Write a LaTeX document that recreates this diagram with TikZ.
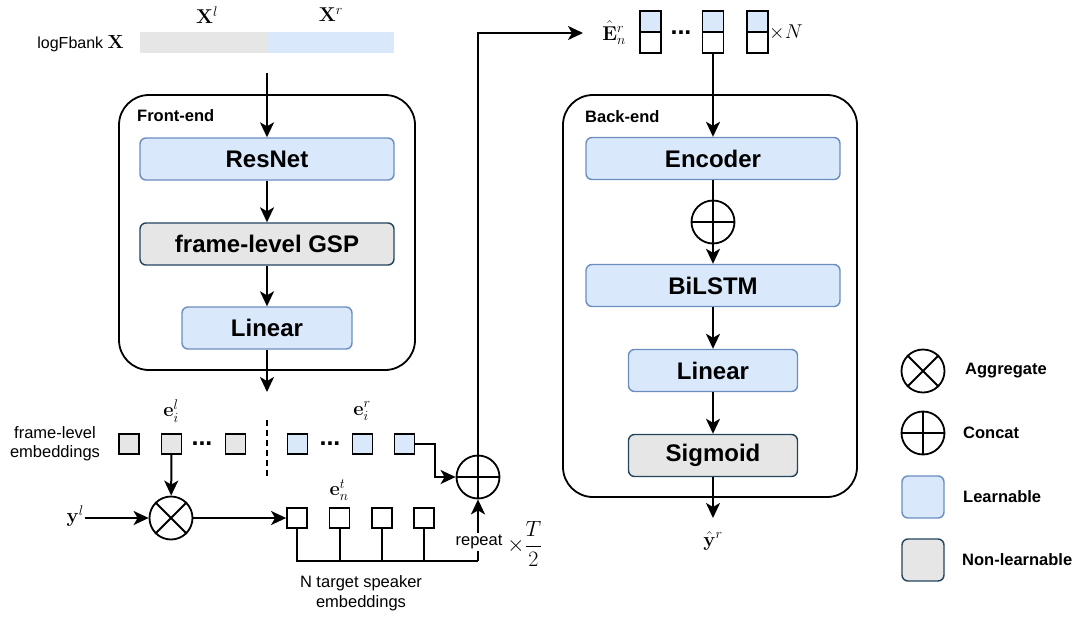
\RequirePackage{fix-cm}
\documentclass[tikz,border=0pt]{standalone}
\usepackage{amsmath}
\usepackage[no-math]{fontspec}
\setmainfont{Liberation Sans}
\usetikzlibrary{arrows.meta}
\definecolor{lblue}{HTML}{DAE8FC}
\definecolor{lbord}{HTML}{6C8EBF}
\definecolor{lgray}{HTML}{E6E6E6}
\definecolor{gbord}{HTML}{23445D}
\begin{document}
\begin{tikzpicture}[x=1pt,y=-1pt,
  arr/.style={line width=2pt,-{Stealth[length=15pt,width=14pt,inset=4pt]}},
  conn/.style={line width=2pt},
  blk/.style={rounded corners=6pt, line width=1.4pt, minimum height=42pt, inner sep=0pt, font=\bfseries\fontsize{24}{28}\selectfont},
  lrn/.style={blk, fill=lblue, draw=lbord},
  nlr/.style={blk, fill=lgray, draw=gbord},
  group/.style={draw, line width=1.8pt, rounded corners=30pt, inner sep=0pt},
  grplbl/.style={anchor=west, inner sep=0pt, font=\bfseries\fontsize{16.5}{19}\selectfont},
  emb/.style={draw, line width=1.8pt, minimum size=20pt, inner sep=0pt},
  ebox/.style={draw, line width=1.8pt, minimum width=21pt, minimum height=21pt, inner sep=0pt},
  op/.style={draw, circle, line width=1.8pt, minimum size=43pt, inner sep=0pt},
  opline/.style={line width=1.8pt},
  mlbl/.style={font=\fontsize{20}{24}\selectfont, inner sep=1pt},
  txt/.style={font=\fontsize{16.5}{19}\selectfont, align=center},
  dots/.style={font=\bfseries\fontsize{25}{28}\selectfont, anchor=base, inner sep=0pt},
  leg/.style={anchor=west, inner sep=0pt, font=\bfseries\fontsize{16.5}{20}\selectfont}
]
\useasboundingbox (0,0) rectangle (1080,619);

% input features
\node[fill=lgray, minimum width=127, minimum height=21, inner sep=0pt] (xl) at (203.5,42.5) {};
\node[fill=lblue, minimum width=127, minimum height=21, inner sep=0pt] (xr) at (330.5,42.5) {};
\node[mlbl] (xllbl) at (207,15) {$\mathbf{X}^l$};
\node[mlbl] (xrlbl) at (331,15) {$\mathbf{X}^r$};
\node[anchor=base east, inner sep=0pt] (xlab) at (124,48) {\fontsize{16}{19}\selectfont logFbank \fontsize{19}{22}\selectfont$\mathbf{X}$};

% front-end
\node[group, minimum width=296, minimum height=275] (fe) at (267,232.5) {};
\node[grplbl] (felbl) at (137,116) {Front-end};
\node[lrn, minimum width=254] (resnet) at (267,159) {ResNet};
\node[nlr, minimum width=254] (gsp) at (267,244) {frame-level GSP};
\node[lrn, minimum width=170] (lin1) at (267,328) {Linear};
\coordinate (xin) at (267,73);
\coordinate (feout) at (267,392);
\draw[arr] (xin) -- (resnet.north);
\draw[arr] (resnet) -- (gsp);
\draw[arr] (gsp) -- (lin1);
\draw[arr] (lin1) -- (feout);

% frame-level embeddings
\node[txt] (fltxt) at (55,444) {frame-level\\embeddings};
\node[emb, fill=lgray] (g1) at (129,444) {};
\node[emb, fill=lgray] (g2) at (171.5,444) {};
\node[emb, fill=lgray] (g3) at (235.5,444) {};
\node[dots] (gd) at (202,445.8) {...};
\node[emb, fill=lblue] (b1) at (297.5,444) {};
\node[emb, fill=lblue] (b2) at (362.5,444) {};
\node[emb, fill=lblue] (b3) at (404.5,444) {};
\node[dots] (bd) at (330,445.8) {...};
\coordinate (dsh1) at (267,420);
\coordinate (dsh2) at (267,478);
\draw[line width=1.8pt, dash pattern=on 6pt off 4pt] (dsh1) -- (dsh2);
\node[mlbl] (eil) at (171,411) {$\mathbf{e}_i^l$};
\node[mlbl] (eir) at (362,411) {$\mathbf{e}_i^r$};

% aggregate
\node[op] (agg) at (171,518) {};
\draw[opline] (agg.north east) -- (agg.south west) (agg.north west) -- (agg.south east);
\draw[arr] (g2) -- (agg);
\node[mlbl, anchor=east] (yl) at (85,516) {$\mathbf{y}^l$};
\draw[arr] (yl.east |- agg.west) -- (agg.west);

% target speaker embeddings
\node[emb, fill=white] (t1) at (297,518) {};
\node[emb, fill=white] (t2) at (339.5,518) {};
\node[emb, fill=white] (t3) at (382,518) {};
\node[emb, fill=white] (t4) at (424,518) {};
\draw[arr] (agg) -- (t1);
\node[mlbl] (ent) at (339,490) {$\mathbf{e}_n^t$};

% concat
\node[op] (cc) at (478,477) {};
\draw[opline] (cc.north) -- (cc.south) (cc.west) -- (cc.east);
\draw[arr] (b3.east) -- ++(20,0) |- (cc.west);

\coordinate (bus) at (478,561);
\draw[conn] (t1.south) -- (t1.south |- bus) -- (bus);
\draw[conn] (t2.south) -- (t2.south |- bus);
\draw[conn] (t3.south) -- (t3.south |- bus);
\draw[conn] (t4.south) -- (t4.south |- bus);
\draw[arr] (bus) -- (cc.south);
\node[txt, fill=white, inner sep=1.5pt] (rep) at (479,542) {repeat};
\node[anchor=west, inner sep=1pt, xshift=2pt, yshift=-2pt, font=\fontsize{22}{26}\selectfont] (rept) at (rep.east) {$\times\dfrac{T}{2}$};
\node[txt] (ntse) at (361,593) {N target speaker\\[1pt]embeddings};

% to back-end input
\coordinate (etip) at (583,33);
\draw[arr] (cc.north) |- (etip);
\node[mlbl] (ehat) at (614,33) {$\hat{\mathbf{E}}_n^r$};
\node[ebox, fill=lblue] (e1t) at (650.5,21.5) {};
\node[ebox, fill=white] (e1b) at (650.5,42.5) {};
\node[ebox, fill=lblue] (e2t) at (713,21.5) {};
\node[ebox, fill=white] (e2b) at (713,42.5) {};
\node[ebox, fill=lblue] (e3t) at (757.5,21.5) {};
\node[ebox, fill=white] (e3b) at (757.5,42.5) {};
\node[dots] (ed) at (681,34.8) {...};
\node[mlbl, anchor=west] (xn) at (768,32) {$\times N$};

% back-end
\node[group, minimum width=294, minimum height=402] (be) at (710,296) {};
\node[grplbl] (belbl) at (585,117) {Back-end};
\node[lrn, minimum width=254] (enc) at (713,158.5) {Encoder};
\node[op] (cc2) at (713,222) {};
\draw[opline] (cc2.west) -- (cc2.east);
\node[lrn, minimum width=254] (bilstm) at (713,285.5) {BiLSTM};
\node[lrn, minimum width=169] (lin2) at (713,370.5) {Linear};
\node[nlr, minimum width=169] (sig) at (713,455.5) {Sigmoid};
\draw[arr] (e2b.south) -- (enc.north);
\draw[arr] (enc) -- (bilstm);
\draw[arr] (bilstm) -- (lin2);
\draw[arr] (lin2) -- (sig);
\coordinate (ytip) at (713,518);
\draw[arr] (sig) -- (ytip);
\node[mlbl] (yhat) at (713,541) {$\hat{\mathbf{y}}^r$};

% legend
\node[op] (lagg) at (923,371) {};
\draw[opline] (lagg.north east) -- (lagg.south west) (lagg.north west) -- (lagg.south east);
\node[leg] (laggt) at (965,371) {Aggregate};
\node[op] (lcc) at (923,433) {};
\draw[opline] (lcc.north) -- (lcc.south) (lcc.west) -- (lcc.east);
\node[leg] (lcct) at (963,433) {Concat};
\node[lrn, minimum width=42] (llrn) at (923,497) {};
\node[leg] (llrnt) at (963,497) {Learnable};
\node[nlr, minimum width=42] (lnlr) at (923,560) {};
\node[leg] (lnlrt) at (962,560) {Non-learnable};
\end{tikzpicture}
\end{document}
